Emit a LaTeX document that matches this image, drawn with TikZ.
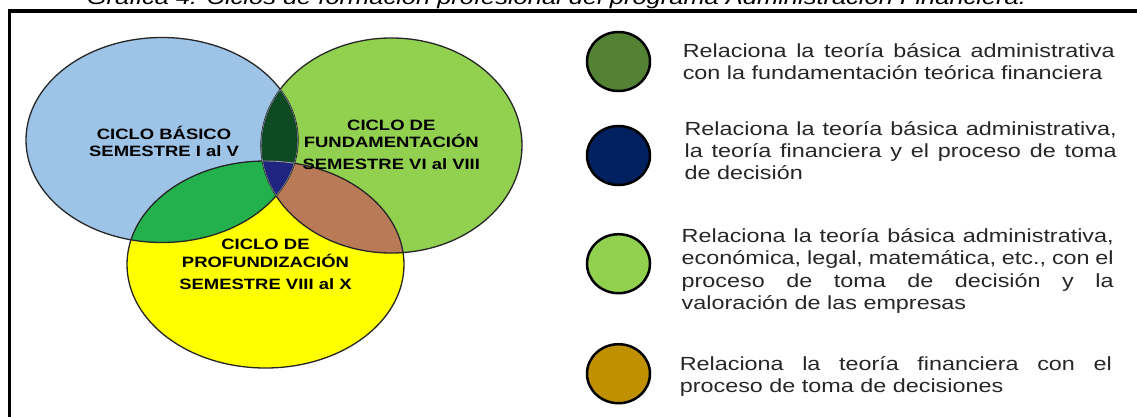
\documentclass[tikz,border=0pt]{standalone}
\usepackage{fontspec}
\setmainfont[FakeStretch=1.23]{Liberation Sans}
\usetikzlibrary{shapes.geometric}
\definecolor{cBlue}{HTML}{9DC3E6}
\definecolor{cGreen}{HTML}{92D050}
\definecolor{cYellow}{HTML}{FFFF00}
\definecolor{cDarkGreen}{HTML}{0D4A22}
\definecolor{cLensGreen}{HTML}{22B14C}
\definecolor{cBrown}{HTML}{B97A57}
\definecolor{cNavy}{HTML}{1F2480}
\definecolor{cEdge}{HTML}{262626}
\definecolor{cLight}{HTML}{8E9AB0}
\definecolor{kOlive}{HTML}{548235}
\definecolor{kNavy}{HTML}{002060}
\definecolor{kLime}{HTML}{92D050}
\definecolor{kGold}{HTML}{BF9000}
\tolerance=10000
\hbadness=10000
\tikzset{
  venntext/.style={font=\bfseries\fontsize{15}{17.7}\selectfont, align=center, anchor=base, inner sep=0pt, text=black},
  legcirc/.style={ellipse, draw=black, line width=2.5pt, minimum width=63pt, minimum height=59pt, inner sep=0pt},
  legtext/.style={font=\fontsize{19}{22.4}\selectfont, text width=432pt, align=justify, anchor=base west, inner sep=0pt, text=black!85},
  edge/.style={draw=cEdge, line width=1.3pt},
  lightedge/.style={draw=cLight, line width=0.9pt}
}
\begin{document}
\begin{tikzpicture}[x=1pt,y=-1pt]
\useasboundingbox (0,0) rectangle (1137,416);
% title (partly cut by the page edge)
\node[font=\itshape\fontsize{20.7}{24}\selectfont, anchor=base, inner sep=0pt] (title) at (556.5,4.5) {Gráfica 4. Ciclos de formación profesional del programa Administración Financiera.};
% frame
\draw[line width=3.5pt] (9.5,440) -- (9.5,11) -- (1160,11);
% base fills
\fill[cBlue] (162,140) ellipse [x radius=136pt, y radius=102.5pt];
\fill[cGreen] (391.5,145.5) ellipse [x radius=130.5pt, y radius=107.5pt];
\fill[cYellow] (265.5,264.5) ellipse [x radius=138.5pt, y radius=103.5pt];
% overlaps
\begin{scope}
  \clip (162,140) ellipse [x radius=136pt, y radius=102.5pt];
  \clip (391.5,145.5) ellipse [x radius=130.5pt, y radius=107.5pt];
  \fill[cDarkGreen] (0,0) rectangle (600,416);
\end{scope}
\begin{scope}
  \clip (162,140) ellipse [x radius=136pt, y radius=102.5pt];
  \clip (265.5,264.5) ellipse [x radius=138.5pt, y radius=103.5pt];
  \fill[cLensGreen] (0,0) rectangle (600,416);
\end{scope}
\begin{scope}
  \clip (391.5,145.5) ellipse [x radius=130.5pt, y radius=107.5pt];
  \clip (265.5,264.5) ellipse [x radius=138.5pt, y radius=103.5pt];
  \fill[cBrown] (0,0) rectangle (600,416);
\end{scope}
\begin{scope}
  \clip (162,140) ellipse [x radius=136pt, y radius=102.5pt];
  \clip (391.5,145.5) ellipse [x radius=130.5pt, y radius=107.5pt];
  \clip (265.5,264.5) ellipse [x radius=138.5pt, y radius=103.5pt];
  \fill[cNavy] (0,0) rectangle (600,416);
\end{scope}
% outlines
\draw[edge] (162,140) ellipse [x radius=136pt, y radius=102.5pt];
\draw[edge] (391.5,145.5) ellipse [x radius=130.5pt, y radius=107.5pt];
\draw[edge] (265.5,264.5) ellipse [x radius=138.5pt, y radius=103.5pt];
\begin{scope}
  \clip (162,140) ellipse [x radius=136pt, y radius=102.5pt];
  \clip (391.5,145.5) ellipse [x radius=130.5pt, y radius=107.5pt];
  \draw[lightedge] (162,140) ellipse [x radius=136pt, y radius=102.5pt];
  \draw[lightedge] (391.5,145.5) ellipse [x radius=130.5pt, y radius=107.5pt];
  \draw[lightedge] (265.5,264.5) ellipse [x radius=138.5pt, y radius=103.5pt];
\end{scope}
% circle labels (anchor = baseline of the last line)
\node[venntext] (basico) at (164,156.7) {CICLO BÁSICO\\SEMESTRE I al V};
\node[venntext] (fundam) at (391.3,169.3) {CICLO DE\\FUNDAMENTACIÓN\\[3.9pt]SEMESTRE VI al VIII};
\node[venntext] (profund) at (265.5,289.3) {CICLO DE\\PROFUNDIZACIÓN\\[4.6pt]SEMESTRE VIII al X};
% legend
\node[legcirc, fill=kOlive] (k1) at (618.5,61.5) {};
\node[legcirc, fill=kNavy] (k2) at (618.5,155.5) {};
\node[legcirc, fill=kLime] (k3) at (618.5,263.7) {};
\node[legcirc, fill=kGold] (k4) at (618.5,373.7) {};
\node[legtext] (t1) at (682.6,57.3) {Relaciona la teoría básica administrativa\linebreak con la fundamentación teórica financiera};
\node[legtext] (t2) at (684.4,135) {Relaciona la teoría básica administrativa,\linebreak la teoría financiera y el proceso de toma\linebreak de decisión};
\node[legtext] (t3) at (681.5,242.3) {Relaciona la teoría básica administrativa,\linebreak económica, legal, matemática, etc., con el\linebreak proceso de toma de decisión y la\linebreak valoración de las empresas};
\node[legtext] (t4) at (679.6,370) {Relaciona la teoría financiera con el\linebreak proceso de toma de decisiones};
\end{tikzpicture}
\end{document}
